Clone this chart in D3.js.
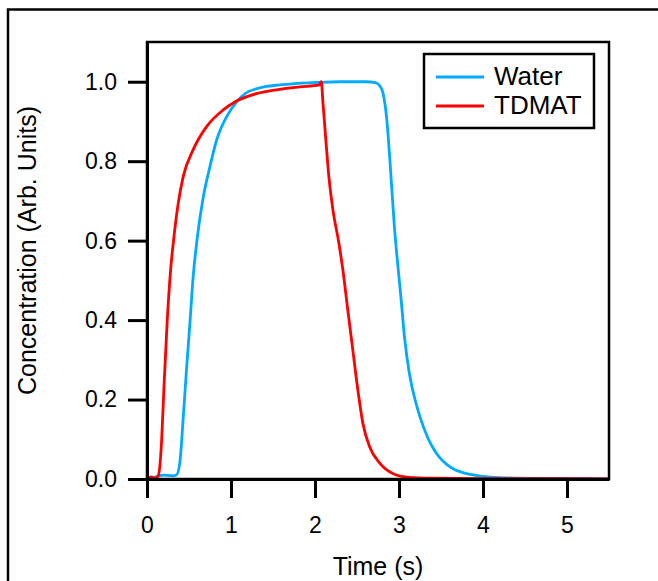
<!DOCTYPE html>
<html>
<head>
<meta charset="utf-8">
<script src="https://cdn.jsdelivr.net/npm/d3@7"></script>
<style>
  body { margin: 0; background: #fff; }
  text { font-family: "Liberation Sans", Arial, sans-serif; fill: #000; }
</style>
</head>
<body>
<script>
const width = 658,
  height = 581,
  margin = { top: 42, right: 49, bottom: 102, left: 147 },
  waterColor = "#00aaff",
  tdmatColor = "#ff0000";

// Water trace
const waterTime = [0, 0.1, 0.2, 0.3, 0.35, 0.39, 0.43, 0.47, 0.51, 0.55, 0.6, 0.67, 0.75, 0.83, 0.95, 1.07, 1.18, 1.3, 1.42, 1.58, 1.8, 2.0, 2.3, 2.6, 2.72, 2.77, 2.81, 2.855, 2.886, 2.913, 2.945, 2.985, 3.024, 3.064, 3.123, 3.203, 3.26, 3.34, 3.4, 3.48, 3.56, 3.66, 3.76, 3.955, 4.15, 4.4, 4.8, 5.2, 5.5];
const waterConc = [0, 0.005, 0.01, 0.008, 0.01, 0.04, 0.15, 0.275, 0.39, 0.51, 0.61, 0.71, 0.787, 0.854, 0.913, 0.95, 0.972, 0.982, 0.988, 0.992, 0.996, 0.998, 1.0, 1.0, 0.998, 0.99, 0.971, 0.904, 0.82, 0.735, 0.635, 0.54, 0.455, 0.36, 0.266, 0.19, 0.15, 0.105, 0.08, 0.055, 0.038, 0.024, 0.016, 0.008, 0.004, 0.002, 0.001, 0.001, 0];

// TDMAT trace
const tdmatTime = [0, 0.05, 0.1, 0.134, 0.175, 0.202, 0.241, 0.281, 0.321, 0.372, 0.431, 0.55, 0.709, 0.907, 1.045, 1.3, 1.58, 1.82, 2.05, 2.075, 2.095, 2.126, 2.165, 2.213, 2.284, 2.332, 2.39, 2.45, 2.51, 2.57, 2.65, 2.77, 2.925, 3.12, 3.4, 4.0, 4.5, 5.0, 5.5];
const tdmatConc = [0, 0.005, 0.002, 0.008, 0.1, 0.232, 0.4, 0.526, 0.61, 0.694, 0.761, 0.829, 0.887, 0.929, 0.949, 0.97, 0.981, 0.987, 0.992, 1.0, 0.946, 0.862, 0.761, 0.678, 0.594, 0.526, 0.426, 0.325, 0.224, 0.14, 0.081, 0.04, 0.014, 0.004, 0.002, 0.001, 0.001, 0.001, 0];

const xTicks = [0, 1, 2, 3, 4, 5];
const yTicks = [0, 0.2, 0.4, 0.6, 0.8, 1.0];
const seriesNames = ["Water", "TDMAT"];

const series = [
  { name: seriesNames[0], color: waterColor, values: waterTime.map((t, i) => [t, waterConc[i]]) },
  { name: seriesNames[1], color: tdmatColor, values: tdmatTime.map((t, i) => [t, tdmatConc[i]]) },
];

const x = d3.scaleLinear().domain([0, 5.5]).range([margin.left, width - margin.right]);
const y = d3.scaleLinear().domain([0, 1.1]).range([height - margin.bottom, margin.top]);

const svg = d3
  .select("body")
  .append("svg")
  .attr("width", width)
  .attr("height", height);

// outer frame, cut off at right and bottom like the picture
svg
  .append("rect")
  .attr("x", 8)
  .attr("y", 9.5)
  .attr("width", width + 20)
  .attr("height", height + 20)
  .attr("fill", "none")
  .attr("stroke", "#000")
  .attr("stroke-width", 2.5);

const line = d3
  .line()
  .x((d) => x(d[0]))
  .y((d) => y(d[1]))
  .curve(d3.curveMonotoneX);

svg
  .append("g")
  .selectAll("path")
  .data(series)
  .join("path")
  .attr("fill", "none")
  .attr("stroke", (d) => d.color)
  .attr("stroke-width", 2.8)
  .attr("stroke-linejoin", "round")
  .attr("d", (d) => line(d.values));

// plot box
svg
  .append("rect")
  .attr("x", x(0))
  .attr("y", y(1.1))
  .attr("width", x(5.5) - x(0))
  .attr("height", y(0) - y(1.1))
  .attr("fill", "none")
  .attr("stroke", "#000")
  .attr("stroke-width", 2.5);

const xAxis = svg
  .append("g")
  .attr("transform", `translate(0,${y(0)})`)
  .call(d3.axisBottom(x).tickValues(xTicks).tickSize(19).tickSizeOuter(0).tickPadding(19).tickFormat(d3.format("d")));

const yAxis = svg
  .append("g")
  .attr("transform", `translate(${x(0)},0)`)
  .call(d3.axisLeft(y).tickValues(yTicks).tickSize(19).tickSizeOuter(0).tickPadding(11).tickFormat(d3.format(".1f")));

[xAxis, yAxis].forEach((g) => {
  g.select(".domain").attr("stroke-width", 3);
  g.selectAll(".tick line").attr("stroke-width", 3);
  g.selectAll(".tick text")
    .attr("font-size", 23)
    .attr("font-family", "Liberation Sans, Arial, sans-serif")
    .attr("fill", "#000");
});

svg
  .append("text")
  .attr("x", (x(0) + x(5.5)) / 2)
  .attr("y", 575)
  .attr("text-anchor", "middle")
  .attr("font-size", 25)
  .text("Time (s)");

svg
  .append("text")
  .attr("transform", `translate(36,${(y(0) + y(1.1)) / 2 - 10}) rotate(-90)`)
  .attr("text-anchor", "middle")
  .attr("font-size", 25)
  .text("Concentration (Arb. Units)");

// legend
const legend = svg.append("g");

legend
  .append("rect")
  .attr("x", 424)
  .attr("y", 54)
  .attr("width", 170)
  .attr("height", 74)
  .attr("fill", "#fff")
  .attr("stroke", "#000")
  .attr("stroke-width", 2.5);

const item = legend
  .selectAll("g")
  .data(series)
  .join("g")
  .attr("transform", (d, i) => `translate(436,${77 + i * 29})`);

item
  .append("line")
  .attr("x1", 0)
  .attr("x2", 48)
  .attr("stroke", (d) => d.color)
  .attr("stroke-width", 3);

item
  .append("text")
  .attr("x", 58)
  .attr("y", 8)
  .attr("font-size", 26)
  .text((d) => d.name);
</script>
</body>
</html>
